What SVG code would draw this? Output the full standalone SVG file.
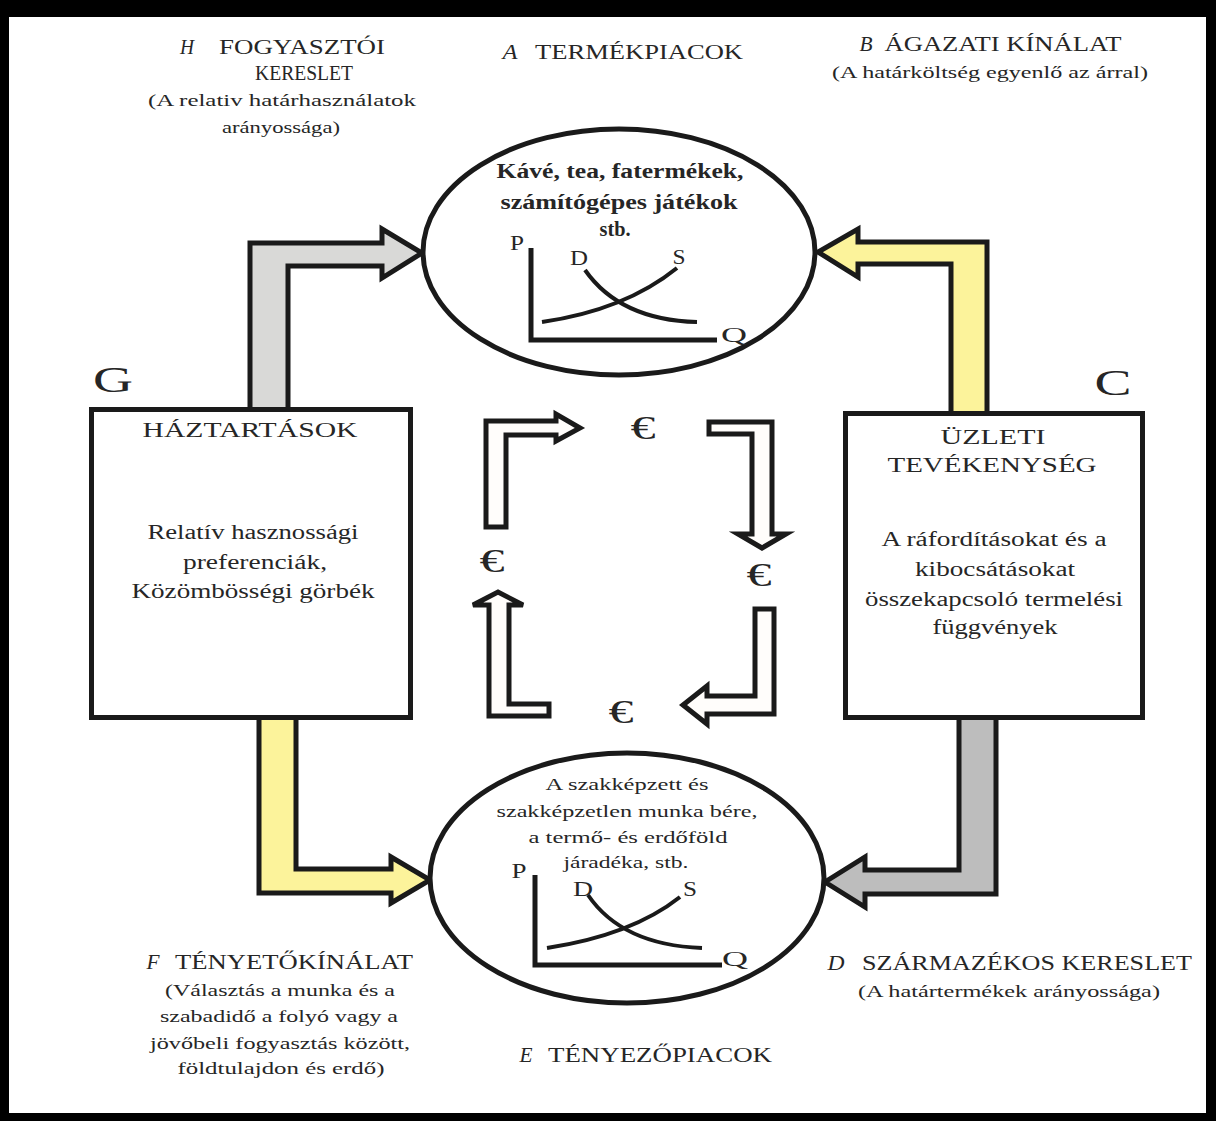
<svg xmlns="http://www.w3.org/2000/svg" width="1216" height="1121" viewBox="0 0 1216 1121">
<style>
text{font-family:"Liberation Serif","DejaVu Serif",serif;fill:#262626;text-anchor:middle}
.cap{font-size:21px}
.sub{font-size:17px}
.it{font-size:20px;font-style:italic}
.body{font-size:20px}
.bold{font-size:20px;font-weight:bold}
.sm{font-size:17px}
.ax{font-size:20px}
.big{font-size:36px}
.eur{font-size:34px}
.arrow{stroke:#1a1a1a;stroke-width:5;stroke-linejoin:miter}
.node{fill:#fff;stroke:#1a1a1a;stroke-width:5}
.curve{fill:none;stroke:#1a1a1a;stroke-width:4;stroke-linecap:butt}
</style>
<rect x="0" y="0" width="1216" height="1121" fill="#000"/>
<rect x="9" y="17" width="1197" height="1096" fill="#fff"/>

<g id="connectors">
  <path class="arrow" fill="#d9d9d7" d="M250,410 L250,243 L382,243 L382,229 L422,253 L382,278 L382,266 L288,266 L288,410"/>
  <path class="arrow" fill="#fcf39b" d="M987,413 L987,242 L858,242 L858,229 L818,252 L858,277 L858,264 L951,264 L951,413"/>
  <path class="arrow" fill="#fcf39b" d="M259,716 L259,893 L391,893 L391,903 L430,880 L391,857 L391,869 L296,869 L296,716"/>
  <path class="arrow" fill="#bdbdbd" d="M996,716 L996,894 L865,894 L865,907 L825,882 L865,857 L865,870 L959,870 L959,716"/>
  <path class="arrow" fill="#fffdfb" d="M486,527 L486,421 L556,421 L556,414 L580,428 L556,441 L556,435 L506,435 L506,527 Z"/>
  <path class="arrow" fill="#fffdfb" d="M709,422 L772,422 L772,534 L786,534 L762,548 L738,534 L752,534 L752,434 L709,434 Z"/>
  <path class="arrow" fill="#fffdfb" d="M774,609 L774,714 L707,714 L707,724 L683,705 L707,686 L707,696 L755,696 L755,609 Z"/>
  <path class="arrow" fill="#fffdfb" d="M489,716 L489,605 L473,605 L498,592 L523,605 L509,605 L509,704 L549,704 L549,716 Z"/>
</g>

<g id="euro">
  <text class="eur" x="643" y="439" textLength="25" lengthAdjust="spacingAndGlyphs">€</text>
  <text class="eur" x="492" y="572" textLength="25" lengthAdjust="spacingAndGlyphs">€</text>
  <text class="eur" x="759" y="586" textLength="25" lengthAdjust="spacingAndGlyphs">€</text>
  <text class="eur" x="621" y="723" textLength="25" lengthAdjust="spacingAndGlyphs">€</text>
</g>

<g id="households">
  <rect class="node" x="91.5" y="409.5" width="319" height="308"/>
  <text class="cap" x="250" y="437" textLength="215" lengthAdjust="spacingAndGlyphs">HÁZTARTÁSOK</text>
  <text class="body" x="253" y="539" textLength="211" lengthAdjust="spacingAndGlyphs">Relatív hasznossági</text>
  <text class="body" x="255" y="569" textLength="144" lengthAdjust="spacingAndGlyphs">preferenciák,</text>
  <text class="body" x="253" y="598" textLength="243" lengthAdjust="spacingAndGlyphs">Közömbösségi görbék</text>
</g>
<text id="label-G" class="big" x="113" y="392" textLength="40" lengthAdjust="spacingAndGlyphs">G</text>

<g id="business">
  <rect class="node" x="845.5" y="413.5" width="297" height="304"/>
  <text class="cap" x="993" y="444" textLength="105" lengthAdjust="spacingAndGlyphs">ÜZLETI</text>
  <text class="cap" x="992" y="472" textLength="209" lengthAdjust="spacingAndGlyphs">TEVÉKENYSÉG</text>
  <text class="body" x="994" y="546" textLength="225" lengthAdjust="spacingAndGlyphs">A ráfordításokat és a</text>
  <text class="body" x="995" y="576" textLength="160" lengthAdjust="spacingAndGlyphs">kibocsátásokat</text>
  <text class="body" x="994" y="606" textLength="258" lengthAdjust="spacingAndGlyphs">összekapcsoló termelési</text>
  <text class="body" x="995" y="634" textLength="125" lengthAdjust="spacingAndGlyphs">függvények</text>
</g>
<text id="label-C" class="big" x="1113" y="395" textLength="37" lengthAdjust="spacingAndGlyphs">C</text>

<g id="product-market">
  <ellipse class="node" cx="619" cy="252" rx="196" ry="123"/>
  <text class="bold" x="620" y="178" textLength="247" lengthAdjust="spacingAndGlyphs">Kávé, tea, fatermékek,</text>
  <text class="bold" x="619" y="209" textLength="237" lengthAdjust="spacingAndGlyphs">számítógépes játékok</text>
  <text class="bold" x="615" y="236" textLength="31" lengthAdjust="spacingAndGlyphs">stb.</text>
  <path class="curve" style="stroke-width:5" d="M531,248 V340 H717"/>
  <path class="curve" d="M585,270 Q620,320 697,322"/>
  <path class="curve" d="M542,322 Q625,310 677,268"/>
  <text class="ax" x="517" y="250" textLength="14" lengthAdjust="spacingAndGlyphs">P</text>
  <text class="ax" x="579" y="265" textLength="18" lengthAdjust="spacingAndGlyphs">D</text>
  <text class="ax" x="679" y="264" textLength="13" lengthAdjust="spacingAndGlyphs">S</text>
  <text class="ax" x="734" y="342" textLength="26" lengthAdjust="spacingAndGlyphs">Q</text>
</g>

<g id="factor-market">
  <ellipse class="node" cx="627" cy="878" rx="197" ry="125"/>
  <text class="sm" x="627" y="790" textLength="163" lengthAdjust="spacingAndGlyphs">A szakképzett és</text>
  <text class="sm" x="627" y="817" textLength="261" lengthAdjust="spacingAndGlyphs">szakképzetlen munka bére,</text>
  <text class="sm" x="628" y="843" textLength="199" lengthAdjust="spacingAndGlyphs">a termő- és erdőföld</text>
  <text class="sm" x="626" y="868" textLength="125" lengthAdjust="spacingAndGlyphs">járadéka, stb.</text>
  <path class="curve" style="stroke-width:5" d="M535,875 V965 H722"/>
  <path class="curve" d="M588,895 Q622,945 702,948"/>
  <path class="curve" d="M547,948 Q632,935 680,897"/>
  <text class="ax" x="519" y="878" textLength="15" lengthAdjust="spacingAndGlyphs">P</text>
  <text class="ax" x="583" y="896" textLength="20" lengthAdjust="spacingAndGlyphs">D</text>
  <text class="ax" x="690" y="896" textLength="14" lengthAdjust="spacingAndGlyphs">S</text>
  <text class="ax" x="735" y="966" textLength="26" lengthAdjust="spacingAndGlyphs">Q</text>
</g>

<g id="label-H">
  <text class="it" x="187" y="54" textLength="14" lengthAdjust="spacingAndGlyphs">H</text>
  <text class="cap" x="302" y="54" textLength="166" lengthAdjust="spacingAndGlyphs">FOGYASZTÓI</text>
  <text class="cap" x="304" y="80" textLength="98" lengthAdjust="spacingAndGlyphs">KERESLET</text>
  <text class="sub" x="282" y="106" textLength="268" lengthAdjust="spacingAndGlyphs">(A relativ határhasználatok</text>
  <text class="sub" x="281" y="133" textLength="118" lengthAdjust="spacingAndGlyphs">arányossága)</text>
</g>
<g id="label-A">
  <text class="it" x="510" y="59" textLength="15" lengthAdjust="spacingAndGlyphs">A</text>
  <text class="cap" x="639" y="59" textLength="208" lengthAdjust="spacingAndGlyphs">TERMÉKPIACOK</text>
</g>
<g id="label-B">
  <text class="it" x="866" y="51" textLength="13" lengthAdjust="spacingAndGlyphs">B</text>
  <text class="cap" x="1003" y="51" textLength="237" lengthAdjust="spacingAndGlyphs">ÁGAZATI KÍNÁLAT</text>
  <text class="sub" x="990" y="78" textLength="316" lengthAdjust="spacingAndGlyphs">(A határköltség egyenlő az árral)</text>
</g>
<g id="label-F">
  <text class="it" x="153" y="969" textLength="13" lengthAdjust="spacingAndGlyphs">F</text>
  <text class="cap" x="294" y="969" textLength="238" lengthAdjust="spacingAndGlyphs">TÉNYETŐKÍNÁLAT</text>
  <text class="sub" x="280" y="996" textLength="230" lengthAdjust="spacingAndGlyphs">(Választás a munka és a</text>
  <text class="sub" x="279" y="1022" textLength="238" lengthAdjust="spacingAndGlyphs">szabadidő a folyó vagy a</text>
  <text class="sub" x="280" y="1049" textLength="260" lengthAdjust="spacingAndGlyphs">jövőbeli fogyasztás között,</text>
  <text class="sub" x="281" y="1074" textLength="207" lengthAdjust="spacingAndGlyphs">földtulajdon és erdő)</text>
</g>
<g id="label-D">
  <text class="it" x="836" y="970" textLength="17" lengthAdjust="spacingAndGlyphs">D</text>
  <text class="cap" x="1027" y="970" textLength="330" lengthAdjust="spacingAndGlyphs">SZÁRMAZÉKOS KERESLET</text>
  <text class="sub" x="1009" y="997" textLength="302" lengthAdjust="spacingAndGlyphs">(A határtermékek arányossága)</text>
</g>
<g id="label-E">
  <text class="it" x="526" y="1062" textLength="13" lengthAdjust="spacingAndGlyphs">E</text>
  <text class="cap" x="660" y="1062" textLength="224" lengthAdjust="spacingAndGlyphs">TÉNYEZŐPIACOK</text>
</g>
</svg>
